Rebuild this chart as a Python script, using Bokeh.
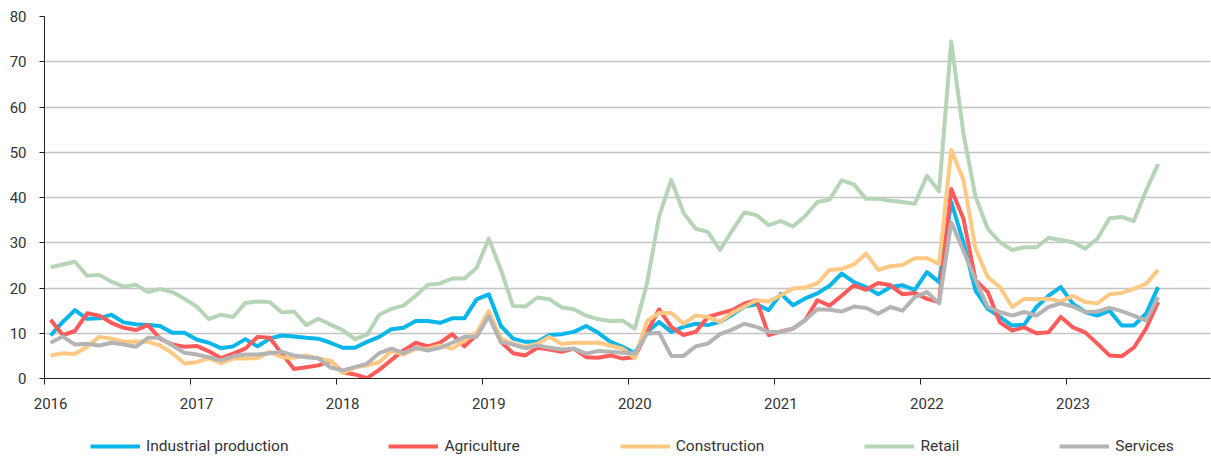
from bokeh.plotting import figure
from bokeh.layouts import column
from bokeh.models import FixedTicker, Legend, LegendItem
from bokeh.embed import file_html
from bokeh.resources import INLINE

# Monthly data, Jan 2016 .. Aug 2023
year_labels = ["2016", "2017", "2018", "2019", "2020", "2021", "2022", "2023"]

industrial = [9.5, 12.5, 15.1, 13.2, 13.3, 14.1, 12.4, 12.0, 11.8, 11.6,
              10.1, 10.1, 8.6, 7.9, 6.7, 7.1, 8.7, 7.1, 8.8, 9.5,
              9.3, 9.0, 8.8, 7.9, 6.8, 6.8, 8.1, 9.2, 10.9, 11.2,
              12.7, 12.7,
              12.3, 13.3, 13.3, 17.5, 18.6, 11.6, 8.8, 8.1, 8.1, 9.6,
              9.8, 10.3, 11.6, 10.1, 8.1, 7.0, 5.6, 10.3, 12.5, 10.3,
              11.4, 12.1, 11.8, 12.5, 14.1, 15.9, 16.4, 15.1, 18.7, 16.2,
              17.7, 18.8,
              20.5, 23.2, 21.3, 20.2, 18.6, 20.2, 20.6, 19.6, 23.5, 21.3,
              39.0, 30.1, 19.4, 15.4, 13.6, 11.7, 11.9, 15.8, 18.3, 20.2,
              16.5, 14.7, 13.9, 15.0, 11.7, 11.7, 14.3, 20.2]

agriculture = [13.0, 9.6, 10.5, 14.4, 13.9, 12.3, 11.2, 10.7, 11.8, 8.8,
               7.5, 7.0, 7.2, 6.0, 4.5, 5.5, 6.6, 9.2, 9.0, 5.5,
               2.1, 2.5, 2.9, 3.9, 1.4, 0.9, 0.1, 1.9, 4.1, 6.2,
               7.9, 7.1,
               7.9, 9.8, 7.1, 9.6, 14.0, 8.1, 5.6, 5.1, 6.8, 6.4,
               5.9, 6.6, 4.7, 4.6, 5.1, 4.4, 4.7, 10.3, 15.3, 11.4,
               9.6, 10.3, 13.6, 14.4, 15.1, 16.6, 17.3, 9.6, 10.4, 11.0,
               12.9, 17.3,
               16.1, 18.3, 20.6, 19.6, 21.1, 20.6, 18.6, 18.9, 17.6, 16.9,
               41.9, 35.3, 21.7, 19.1, 12.4, 10.6, 11.3, 10.0, 10.2, 13.6,
               11.3, 10.2, 7.7, 5.1, 4.9, 6.8, 11.0, 16.9]

construction = [5.1, 5.6, 5.4, 7.0, 9.2, 8.8, 8.1, 8.2, 8.1, 7.3,
                5.6, 3.3, 3.6, 4.5, 3.4, 4.4, 4.4, 4.5, 5.9, 4.7,
                4.6, 5.1, 4.4, 3.9, 1.2, 2.4, 2.9, 3.6, 6.1, 5.3,
                6.6, 6.6,
                7.3, 6.6, 8.4, 10.1, 14.9, 8.8, 7.7, 7.0, 7.7, 9.2,
                7.6, 7.9, 7.9, 7.9, 7.3, 6.6, 4.5, 12.7, 14.5, 14.5,
                12.1, 13.9, 13.6, 12.5, 14.5, 15.9, 17.3, 17.0, 18.4, 19.9,
                20.1, 21.0,
                24.0, 24.2, 25.2, 27.6, 24.0, 24.8, 25.1, 26.6, 26.6, 25.3,
                50.5, 43.9, 28.7, 22.4, 20.2, 15.8, 17.6, 17.5, 17.6, 17.0,
                18.3, 16.9, 16.6, 18.6, 18.9, 19.8, 20.9, 24.0]

retail = [24.6, 25.2, 25.8, 22.7, 22.9, 21.4, 20.3, 20.7, 19.1, 19.8,
          19.1, 17.6, 15.9, 13.1, 14.1, 13.6, 16.7, 17.0, 16.9, 14.6,
          14.8, 11.8, 13.2, 11.9, 10.7, 8.7, 9.7, 14.1, 15.4, 16.1,
          18.3, 20.7,
          21.0, 22.1, 22.1, 24.4, 30.9, 24.0, 16.0, 15.9, 17.9, 17.5,
          15.7, 15.3, 13.9, 13.1, 12.7, 12.8, 11.0, 21.0, 35.9, 43.9,
          36.6, 33.1, 32.4, 28.4, 32.7, 36.7, 36.1, 33.9, 34.8, 33.6,
          35.9, 39.0,
          39.5, 43.8, 42.9, 39.7, 39.7, 39.3, 39.0, 38.6, 44.8, 41.4,
          74.5, 54.1, 40.1, 33.1, 30.1, 28.4, 29.0, 29.0, 31.1, 30.6,
          30.1, 28.7, 30.9, 35.4, 35.7, 34.8, 41.5, 47.4]

services = [7.9, 9.3, 7.5, 7.7, 7.3, 7.9, 7.5, 7.0, 9.0, 9.0,
            7.3, 5.7, 5.3, 4.7, 4.0, 4.9, 5.3, 5.3, 5.6, 5.9,
            5.1, 4.7, 4.5, 2.4, 1.8, 2.5, 3.3, 5.6, 6.6, 5.6,
            6.8, 6.2,
            6.8, 7.9, 9.2, 9.2, 13.8, 8.1, 7.5, 6.7, 7.3, 6.8,
            6.4, 6.6, 5.5, 6.1, 5.9, 5.7, 5.5, 9.9, 10.1, 5.0,
            5.0, 7.1, 7.7, 9.8, 10.8, 12.1, 11.4, 10.3, 10.3, 11.0,
            12.9, 15.3,
            15.2, 14.8, 15.9, 15.6, 14.3, 15.8, 15.0, 18.0, 19.1, 16.6,
            34.5, 28.3, 21.7, 15.8, 14.7, 13.9, 14.7, 13.9, 15.8, 16.6,
            15.9, 14.7, 14.8, 15.6, 14.9, 13.9, 12.8, 18.0]

series_names = ["Industrial production", "Agriculture", "Construction", "Retail", "Services"]
series_values = [industrial, agriculture, construction, retail, services]
series_colors = ["#0AB5EA", "#FF5B5B", "#FFC983", "#B6D5B6", "#B4B4B4"]

months = list(range(len(industrial)))

FONT = "Roboto"
TXT = "#333333"

# ---- main chart ----
p = figure(frame_width=1166, frame_height=362,
           x_range=(-0.5, 95.3), y_range=(0, 80),
           output_backend="svg", toolbar_location=None,
           min_border_left=44, min_border_top=16, min_border_right=1,
           min_border_bottom=40)
p.outline_line_color = None
p.background_fill_color = "white"

for name, vals, col in zip(series_names, series_values, series_colors):
    p.line(months, vals, line_color=col, line_width=4, line_join="round")

# x axis: labels at January, ticks at year boundaries
label_pos = [12 * k for k in range(len(year_labels))]
boundary_pos = [12 * k - 0.5 for k in range(len(year_labels))]
p.xaxis.ticker = FixedTicker(ticks=label_pos, minor_ticks=boundary_pos)
p.xaxis.major_label_overrides = {pos: lab for pos, lab in zip(label_pos, year_labels)}
p.xaxis.major_tick_in = 0
p.xaxis.major_tick_out = 0
p.xaxis.major_tick_line_color = None
p.xaxis.minor_tick_in = 0
p.xaxis.minor_tick_out = 6
p.xaxis.minor_tick_line_color = "#222222"
p.xaxis.axis_line_color = "#222222"
p.xaxis.major_label_standoff = 13
p.xaxis.major_label_text_font = FONT
p.xaxis.major_label_text_font_size = "15px"
p.xaxis.major_label_text_color = TXT

p.yaxis.ticker = FixedTicker(ticks=list(range(0, 81, 10)), minor_ticks=[])
p.yaxis.major_tick_in = 0
p.yaxis.major_tick_out = 5
p.yaxis.major_tick_line_color = "#222222"
p.yaxis.axis_line_color = "#222222"
p.yaxis.major_label_standoff = 13
p.yaxis.major_label_text_font = FONT
p.yaxis.major_label_text_font_size = "15px"
p.yaxis.major_label_text_color = TXT

p.xgrid.visible = False
p.ygrid.ticker = FixedTicker(ticks=list(range(10, 81, 10)))
p.ygrid.grid_line_color = "#C4C4C4"
p.ygrid.grid_line_width = 1.5

# ---- legend strip below the chart (proxy renderers with NaN data) ----
lg = figure(width=1211, height=41, x_range=(0, 1), y_range=(0, 1),
            x_axis_type=None, y_axis_type=None,
            output_backend="svg", toolbar_location=None, min_border=0)
lg.outline_line_color = None
lg.grid.visible = False
nan = float("nan")
proxies = []
for name, col in zip(series_names, series_colors):
    proxies.append(lg.line([nan], [nan], line_color=col, line_width=4))

legend = Legend(items=[LegendItem(label=n, renderers=[r]) for n, r in zip(series_names, proxies)],
                orientation="horizontal", location=(46, 3),
                glyph_width=50, glyph_height=20, label_standoff=6, spacing=100,
                padding=0, margin=0, border_line_color=None, background_fill_alpha=0,
                label_text_font=FONT, label_text_font_size="15.5px", label_text_color=TXT)
lg.add_layout(legend, "center")

layout = column(p, lg, spacing=0)
open("out.html", "w").write(file_html(layout, INLINE))
